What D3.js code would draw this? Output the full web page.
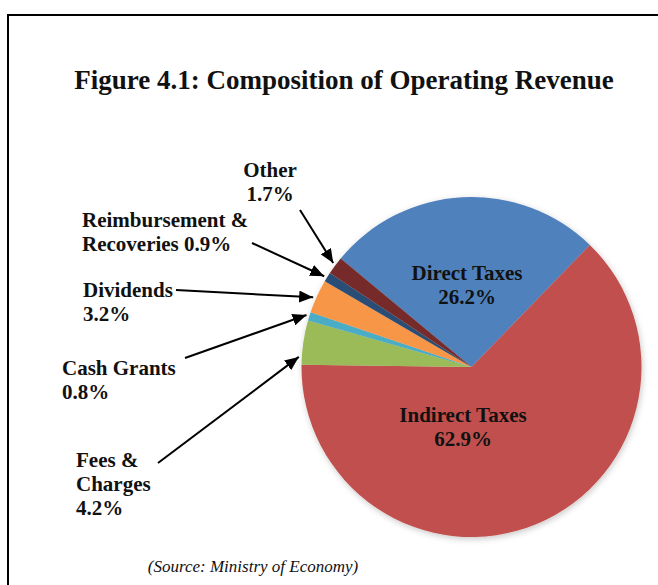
<!DOCTYPE html>
<html>
<head>
<meta charset="utf-8">
<script src="https://cdn.jsdelivr.net/npm/d3@7"></script>
<style>
  html, body { margin: 0; padding: 0; background: #fff; }
  svg { display: block; }
  text { font-family: "Liberation Serif", "Times New Roman", serif; fill: #111; }
</style>
</head>
<body>
<svg id="chart" width="658" height="585"></svg>
<script>
// Revenue components, in drawing order (clockwise)
const categories = ["Direct Taxes", "Indirect Taxes", "Fees & Charges", "Cash Grants",
                    "Dividends", "Reimbursement & Recoveries", "Other"];
const shares = [26.2, 62.9, 4.2, 0.8, 3.2, 0.9, 1.7];
const sliceColors = ["#4F81BD", "#C0504D", "#9BBB59", "#4BACC6", "#F79646", "#2C4D75", "#772C2A"];

// Label text lines per category (value line is appended from shares)
const labelLines = [
  ["Direct Taxes"],
  ["Indirect Taxes"],
  ["Fees &", "Charges"],
  ["Cash Grants"],
  ["Dividends"],
  ["Reimbursement &", "Recoveries"],
  ["Other"]
];

const W = 658, H = 585;
const cx = 471.5, cy = 367, R = 170;
const startDeg = -50.3;

const svg = d3.select("#chart");

// Frame (top and left rules)
svg.append("line").attr("x1", 8).attr("y1", 15).attr("x2", W + 2).attr("y2", 15)
  .attr("stroke", "#000").attr("stroke-width", 2);
svg.append("line").attr("x1", 8).attr("y1", 14).attr("x2", 8).attr("y2", H + 2)
  .attr("stroke", "#000").attr("stroke-width", 2);

// Title
svg.append("text")
  .attr("x", 344).attr("y", 89)
  .attr("text-anchor", "middle")
  .attr("font-size", 27).attr("font-weight", "bold")
  .text("Figure 4.1: Composition of Operating Revenue");

// Source note
svg.append("text")
  .attr("x", 253).attr("y", 572)
  .attr("text-anchor", "middle")
  .attr("font-size", 17).attr("font-style", "italic")
  .attr("fill", "#222")
  .text("(Source: Ministry of Economy)");

const defs = svg.append("defs");
const shadow = defs.append("filter").attr("id", "pieShadow")
  .attr("x", "-10%").attr("y", "-10%").attr("width", "120%").attr("height", "120%");
shadow.append("feDropShadow").attr("dx", 1).attr("dy", 2).attr("stdDeviation", 3)
  .attr("flood-color", "#000").attr("flood-opacity", 0.22);

defs.append("marker").attr("id", "arrowHead")
  .attr("viewBox", "0 0 14 12").attr("refX", 14).attr("refY", 6)
  .attr("markerWidth", 14).attr("markerHeight", 12)
  .attr("markerUnits", "userSpaceOnUse")
  .attr("orient", "auto")
  .append("path").attr("d", "M0,0 L14,6 L0,12 Z").attr("fill", "#000");

const rad = d => d * Math.PI / 180;
const pie = d3.pie().sort(null).value(d => d)
  .startAngle(rad(startDeg)).endAngle(rad(startDeg) + 2 * Math.PI);
const arcs = pie(shares);
const arc = d3.arc().innerRadius(0).outerRadius(R);

const g = svg.append("g").attr("transform", `translate(${cx},${cy})`);
g.append("g").attr("filter", "url(#pieShadow)")
  .selectAll("path").data(arcs).join("path")
  .attr("d", arc)
  .attr("fill", (d, i) => sliceColors[i]);

// Labels placed inside the two large slices
const insideLabels = [
  { i: 0, x: 467, y: 280 },
  { i: 1, x: 463, y: 422 }
];
// Callout labels outside the pie, with arrow tail and tip position within the slice
const callouts = [
  { i: 6, x: 270, y: 177, anchor: "middle", tail: [300, 210], t: 0.55 },
  { i: 5, x: 82,  y: 227, anchor: "start",  tail: [252, 243], t: 0.4, inline: true },
  { i: 4, x: 83,  y: 297, anchor: "start",  tail: [176, 290], t: 0.43 },
  { i: 3, x: 62,  y: 375, anchor: "start",  tail: [185, 358], t: 0.55 },
  { i: 2, x: 76,  y: 467, anchor: "start",  tail: [158, 463], t: 0.17 }
];
const lineGap = 24;
const pct = v => d3.format(".1f")(v) + "%";

function drawLabel(x, y, anchor, lines) {
  const t = svg.append("text")
    .attr("x", x).attr("y", y)
    .attr("text-anchor", anchor)
    .attr("font-size", 21).attr("font-weight", "bold");
  lines.forEach((s, k) => {
    t.append("tspan").attr("x", x).attr("y", y + k * lineGap).text(s);
  });
}

insideLabels.forEach(l => {
  drawLabel(l.x, l.y, "middle", [...labelLines[l.i], pct(shares[l.i])]);
});

callouts.forEach(c => {
  const lines = labelLines[c.i].slice();
  if (c.inline) lines[lines.length - 1] += " " + pct(shares[c.i]);
  else lines.push(pct(shares[c.i]));
  drawLabel(c.x, c.y, c.anchor, lines);

  const a = arcs[c.i];
  const ang = a.startAngle + c.t * (a.endAngle - a.startAngle);
  const rTip = R + 3;
  const tip = [cx + rTip * Math.sin(ang), cy - rTip * Math.cos(ang)];
  svg.append("line")
    .attr("x1", c.tail[0]).attr("y1", c.tail[1])
    .attr("x2", tip[0]).attr("y2", tip[1])
    .attr("stroke", "#000").attr("stroke-width", 2)
    .attr("marker-end", "url(#arrowHead)");
});
</script>
</body>
</html>
